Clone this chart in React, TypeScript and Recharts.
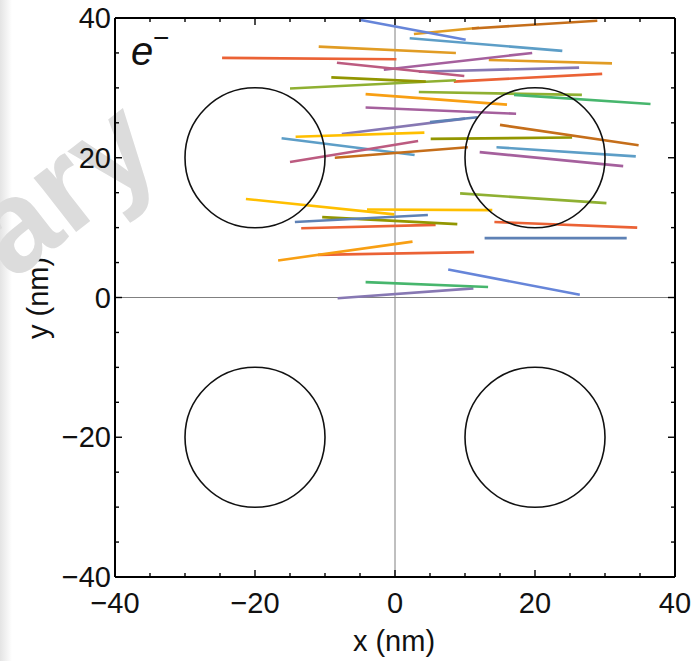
import { LineChart, Line, XAxis, YAxis, ReferenceLine, ReferenceDot } from 'recharts';

// frame ticks (nm)
const TICKS = [-40, -35, -30, -25, -20, -15, -10, -5, 0, 5, 10, 15, 20, 25, 30, 35, 40];
const MAJOR_TICKS = [-40, -20, 0, 20, 40];

// circular traps
const TRAP_X = [-20, 20, -20, 20];
const TRAP_Y = [20, 20, -20, -20];
const TRAP_RADIUS = 10;

// electron track segments, [x1, y1, x2, y2] in nm, grouped by colour
type Seg = [number, number, number, number];

const royalBlue: Seg[] = [[-4.9, 39.7, 10.1, 36.9], [7.6, 4.0, 26.4, 0.4]];
const orange: Seg[] = [[2.7, 37.7, 12.0, 38.6], [-10.9, 35.9, 8.7, 35.0], [13.4, 34.0, 31.0, 33.5]];
const brown: Seg[] = [[11.0, 38.5, 28.9, 39.6], [-8.6, 20.0, 10.4, 21.5], [15.0, 24.7, 34.8, 21.8]];
const lightBlue: Seg[] = [[2.1, 37.1, 23.9, 35.3], [-16.2, 22.8, 2.8, 20.4], [14.5, 21.5, 34.4, 20.2]];
const red: Seg[] = [
  [-24.7, 34.3, 0.2, 34.1],
  [8.4, 30.9, 29.6, 32.0],
  [-13.4, 9.9, 5.8, 10.4],
  [14.2, 10.8, 34.6, 10.0],
  [-11.0, 6.1, 11.3, 6.5],
];
const pink: Seg[] = [[-8.3, 33.6, 9.9, 31.7], [-15.0, 19.4, 3.3, 22.4]];
const magenta: Seg[] = [[-1.6, 32.6, 19.6, 35.0], [-4.2, 27.2, 17.3, 26.3], [12.1, 20.8, 32.6, 18.8]];
const purple: Seg[] = [[3.4, 32.3, 26.3, 32.9], [-7.6, 23.4, 10.0, 25.6], [-8.2, -0.1, 11.2, 1.3]];
const green: Seg[] = [[-15.0, 29.9, 8.7, 31.1], [3.4, 29.4, 26.7, 29.0], [9.3, 14.9, 30.2, 13.5]];
const olive: Seg[] = [[-9.1, 31.5, 4.4, 30.9], [5.1, 22.7, 25.3, 22.9], [-10.4, 11.5, 8.9, 10.5]];
const emerald: Seg[] = [[17.0, 29.0, 36.5, 27.7], [-4.2, 2.2, 13.3, 1.5]];
const amber: Seg[] = [[-4.2, 29.1, 16.0, 27.6], [-16.7, 5.3, 2.5, 8.0]];
const yellow: Seg[] = [[-14.2, 23.0, 4.2, 23.6], [-21.3, 14.1, -0.1, 11.9], [-4.0, 12.6, 13.9, 12.5]];
const steel: Seg[] = [[-14.3, 10.8, 4.7, 11.8], [12.8, 8.5, 33.1, 8.5], [5.0, 25.1, 11.8, 25.8]];

const GROUPS = [
  { segs: red, color: '#EB6235' },
  { segs: orange, color: '#E19C24' },
  { segs: green, color: '#8FB032' },
  { segs: olive, color: '#929600' },
  { segs: purple, color: '#8778B3' },
  { segs: steel, color: '#5E81B5' },
  { segs: lightBlue, color: '#5D9EC7' },
  { segs: brown, color: '#C56E1A' },
  { segs: yellow, color: '#FFBF00' },
  { segs: magenta, color: '#A5609D' },
  { segs: pink, color: '#BC5B80' },
  { segs: amber, color: '#F89F13' },
  { segs: emerald, color: '#47B66D' },
  { segs: royalBlue, color: '#6685D9' },
];

const W = 696;
const H = 661;
const LEFT = 115;
const RIGHT = 21;
const TOP = 18;
const BOTTOM = 84;
const PX_PER_NM = (W - LEFT - RIGHT) / 80;
const FONT = '"Liberation Sans", Arial, Helvetica, sans-serif';

const fmt = (v: number) => (v < 0 ? `\u2212${Math.abs(v)}` : `${v}`);

function FrameTick(props: any) {
  const { x, y, payload, side } = props;
  const v = Number(payload.value);
  const major = MAJOR_TICKS.includes(v);
  const len = major ? 7 : 4;
  let x2 = x;
  let y2 = y;
  if (side === 'bottom') y2 = y - len;
  if (side === 'top') y2 = y + len;
  if (side === 'left') x2 = x + len;
  if (side === 'right') x2 = x - len;
  return (
    <g>
      <line x1={x} y1={y} x2={x2} y2={y2} stroke="#000" strokeWidth={1.4} />
      {major && side === 'bottom' && (
        <text x={x} y={y + 36} textAnchor="middle" fontSize={29} fontFamily={FONT} fill="#111">
          {fmt(v)}
        </text>
      )}
      {major && side === 'left' && (
        <text x={x - 4} y={y + 10} textAnchor="end" fontSize={29} fontFamily={FONT} fill="#111">
          {fmt(v)}
        </text>
      )}
    </g>
  );
}

export default function App() {
  return (
    <div style={{ position: 'absolute', left: 0, top: 0, width: W, height: H, background: '#fff' }}>
      <div
        style={{
          position: 'absolute',
          left: 0,
          top: 0,
          width: 12,
          height: H,
          background: 'linear-gradient(to right, #e4e4e4, #ffffff)',
        }}
      />
      <LineChart width={W} height={H} margin={{ top: 0, right: 0, bottom: 0, left: 0 }}>
        <XAxis
          xAxisId="main"
          type="number"
          dataKey="x"
          orientation="bottom"
          domain={[-40, 40]}
          ticks={TICKS}
          interval={0}
          height={BOTTOM}
          tickSize={0}
          tickMargin={0}
          tickLine={false}
          axisLine={{ stroke: '#000', strokeWidth: 2 }}
          tick={<FrameTick side="bottom" />}
          allowDataOverflow
        />
        <XAxis
          xAxisId="top"
          type="number"
          dataKey="x"
          orientation="top"
          domain={[-40, 40]}
          ticks={TICKS}
          interval={0}
          height={TOP}
          tickSize={0}
          tickMargin={0}
          tickLine={false}
          axisLine={{ stroke: '#000', strokeWidth: 2 }}
          tick={<FrameTick side="top" />}
          allowDataOverflow
        />
        <YAxis
          yAxisId="main"
          type="number"
          orientation="left"
          domain={[-40, 40]}
          ticks={TICKS}
          interval={0}
          width={LEFT}
          tickSize={0}
          tickMargin={0}
          tickLine={false}
          axisLine={{ stroke: '#000', strokeWidth: 2 }}
          tick={<FrameTick side="left" />}
          allowDataOverflow
        />
        <YAxis
          yAxisId="right"
          type="number"
          orientation="right"
          domain={[-40, 40]}
          ticks={TICKS}
          interval={0}
          width={RIGHT}
          tickSize={0}
          tickMargin={0}
          tickLine={false}
          axisLine={{ stroke: '#000', strokeWidth: 2 }}
          tick={<FrameTick side="right" />}
          allowDataOverflow
        />
        <ReferenceLine xAxisId="main" yAxisId="main" x={0} stroke="#808080" strokeWidth={1} />
        <ReferenceLine xAxisId="main" yAxisId="main" y={0} stroke="#808080" strokeWidth={1} />
        {TRAP_X.map((cx, i) => (
          <ReferenceDot
            key={`trap-${i}`}
            xAxisId="main"
            yAxisId="main"
            x={cx}
            y={TRAP_Y[i]}
            r={TRAP_RADIUS * PX_PER_NM}
            fill="none"
            stroke="#111"
            strokeWidth={1.6}
          />
        ))}
        {GROUPS.flatMap((g, gi) =>
          g.segs.map((s, si) => (
            <Line
              key={`seg-${gi}-${si}`}
              xAxisId="main"
              yAxisId="main"
              data={[
                { x: s[0], y: s[1] },
                { x: s[2], y: s[3] },
              ]}
              dataKey="y"
              type="linear"
              stroke={g.color}
              strokeWidth={2.6}
              dot={false}
              activeDot={false}
              isAnimationActive={false}
            />
          ))
        )}
        <text x={131} y={65} fontSize={40} fontStyle="italic" fontFamily={FONT} fill="#111">
          e
        </text>
        <text x={153} y={47} fontSize={28} fontFamily={FONT} fill="#111">
          {'\u2212'}
        </text>
        <text x={394} y={651} textAnchor="middle" fontSize={29} fontFamily={FONT} fill="#111">
          x (nm)
        </text>
        <text
          x={38}
          y={298}
          textAnchor="middle"
          dominantBaseline="central"
          transform="rotate(-90 38 298)"
          fontSize={29}
          fontFamily={FONT}
          fill="#111"
        >
          y (nm)
        </text>
        <text
          x={12}
          y={282}
          fontSize={130}
          fontWeight="bold"
          fontFamily={FONT}
          fill="#dcdcdc"
          transform="rotate(-38 12 282)"
        >
          ary
        </text>
      </LineChart>
    </div>
  );
}
